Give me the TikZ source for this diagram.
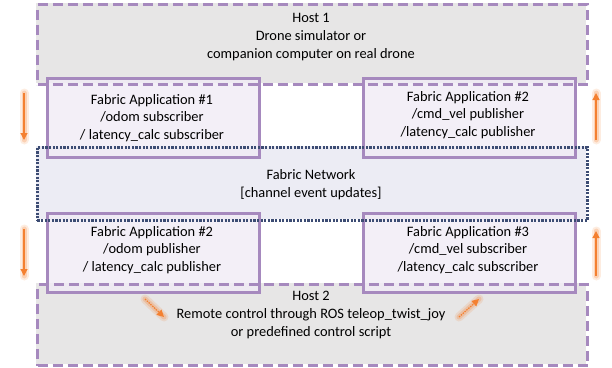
\documentclass[tikz,border=0pt]{standalone}
\usepackage{fontspec}
\setmainfont{Carlito}
\usetikzlibrary{arrows.meta}
\definecolor{hostfill}{RGB}{231,230,230}
\definecolor{netfill}{RGB}{236,236,244}
\definecolor{appfill}{RGB}{240,235,245}
\definecolor{purp}{RGB}{166,137,190}
\definecolor{navy}{RGB}{60,76,115}
\definecolor{orng}{RGB}{244,128,48}
\tikzset{
  hostbox/.style={draw=purp, line width=3pt, dash pattern=on 10pt off 5pt},
  netbox/.style={draw=navy, line width=2.6pt, dash pattern=on 2.2pt off 1.4pt},
  appbox/.style={draw=purp, line width=2.6pt, fill=appfill, fill opacity=0.8, draw opacity=1},
  lbl/.style={align=center, font=\fontsize{14.4}{17.7}\selectfont, text=black},
  glowa/.style={orng, line width=9pt, opacity=0.15, line cap=round},
  glowb/.style={orng, line width=5pt, opacity=0.25, line cap=round},
  flow/.style={orng, line width=1.2pt, -{Triangle[length=7pt,width=7pt]}},
  dflow/.style={orng, line width=1.2pt, dash pattern=on 1.5pt off 1pt, -{Triangle[length=7pt,width=7pt]}}
}
\begin{document}
\begin{tikzpicture}[x=1pt,y=-1pt]
\useasboundingbox (0,0) rectangle (612,367);
% fills
\fill[hostfill] (36,3) rectangle (586,83);
\fill[hostfill] (36,283) rectangle (586,364);
\fill[netfill] (36,146) rectangle (586,219);
% apps
\node[appbox, minimum width=212pt, minimum height=79pt, anchor=north west] (a1) at (46,77) {};
\node[appbox, minimum width=212pt, minimum height=79pt, anchor=north west] (a2) at (362,77) {};
\node[appbox, minimum width=212pt, minimum height=79pt, anchor=north west] (a3) at (46,212) {};
\node[appbox, minimum width=212pt, minimum height=79pt, anchor=north west] (a4) at (362,212) {};
% borders of hosts and network
\node[hostbox, minimum width=550pt, minimum height=80pt, anchor=north west] (h1) at (36,3) {};
\node[hostbox, minimum width=550pt, minimum height=81pt, anchor=north west] (h2) at (36,283) {};
\node[netbox, minimum width=550pt, minimum height=73pt, anchor=north west] (net) at (36,146) {};
% texts
\node[lbl] (t1) at (311,37) {Host 1\\Drone simulator or\\companion computer on real drone};
\node[lbl] (t2) at (152,118) {Fabric Application \#1\\/odom subscriber\\/ latency\_calc subscriber};
\node[lbl] (t3) at (468,115) {Fabric Application \#2\\/cmd\_vel publisher\\/latency\_calc publisher};
\node[lbl] (t4) at (311,185) {Fabric Network\\{[}channel event updates{]}};
\node[lbl] (t5) at (152,250) {Fabric Application \#2\\/odom publisher\\/ latency\_calc publisher};
\node[lbl] (t6) at (468,250) {Fabric Application \#3\\/cmd\_vel subscriber\\/latency\_calc subscriber};
\node[lbl] (t7) at (311,315) {Host 2\\Remote control through ROS teleop\_twist\_joy\\or predefined control script};
% arrows
\coordinate (l1s) at (24,93); \coordinate (l1e) at (24,140);
\coordinate (r1s) at (596,140); \coordinate (r1e) at (596,93);
\coordinate (l2s) at (24,229); \coordinate (l2e) at (24,276);
\coordinate (r2s) at (596,276); \coordinate (r2e) at (596,231);
\coordinate (d1s) at (145,299); \coordinate (d1e) at (164,317);
\coordinate (d2s) at (459,317); \coordinate (d2e) at (479,299);
\foreach \s/\e in {l1s/l1e, r1s/r1e, l2s/l2e, r2s/r2e, d1s/d1e, d2s/d2e}{
  \draw[glowa] (\s) -- (\e);
  \draw[glowb] (\s) -- (\e);
}
\draw[flow] (l1s) -- (l1e);
\draw[flow] (r1s) -- (r1e);
\draw[flow] (l2s) -- (l2e);
\draw[flow] (r2s) -- (r2e);
\draw[dflow] (d1s) -- (d1e);
\draw[dflow] (d2s) -- (d2e);
\end{tikzpicture}
\end{document}
